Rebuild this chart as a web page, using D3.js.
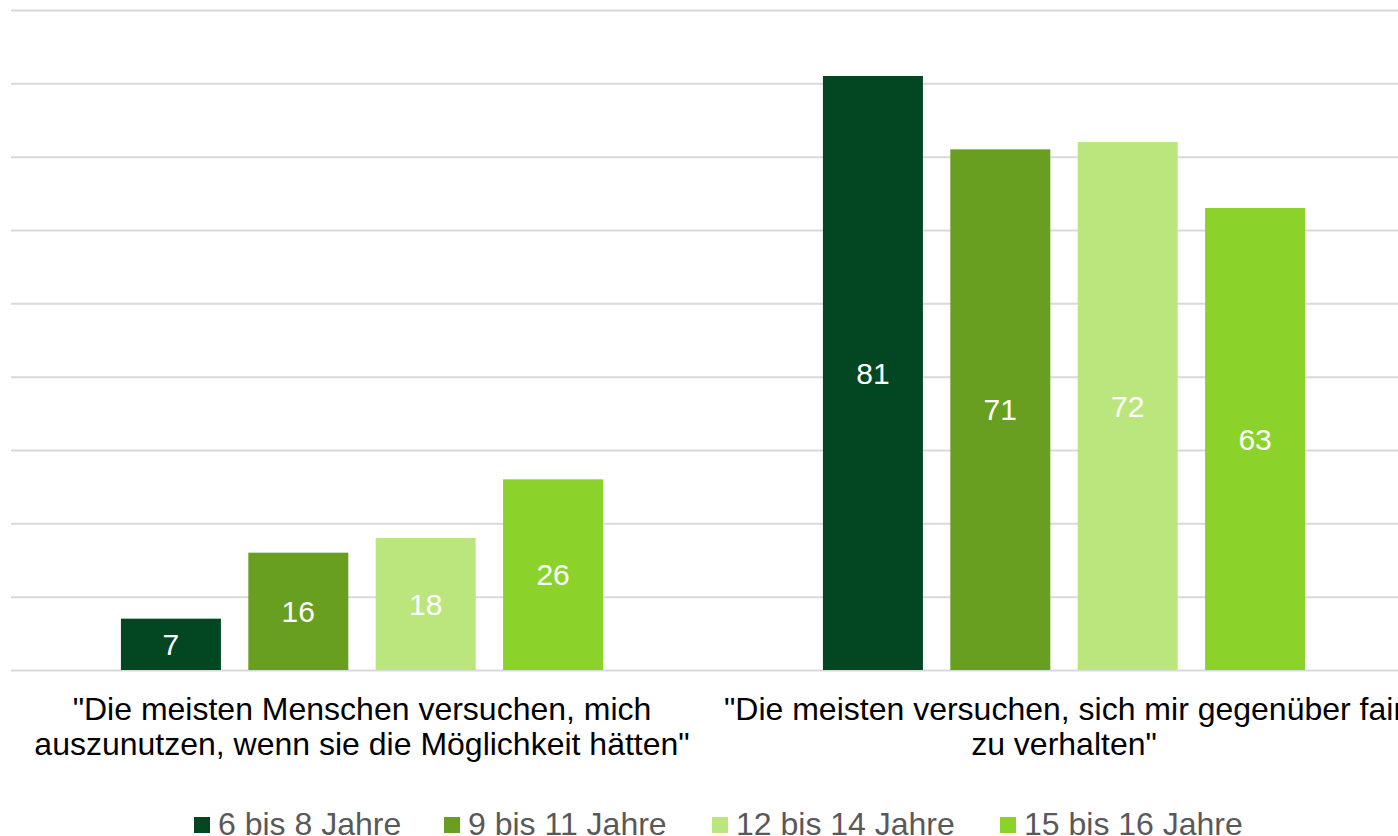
<!DOCTYPE html>
<html>
  <head>
    <meta charset="UTF-8" />
    <title>Vertrauen nach Altersgruppen</title>
    <style>
      body { margin: 0; background: #fff; }
      svg { display: block; font-family: 'Liberation Sans', Arial, sans-serif; }
    </style>
  </head>
  <body>
    <svg width="1398" height="836"></svg>
    <script src="https://cdn.jsdelivr.net/npm/d3@7/dist/d3.min.js"></script>
    <script>
      // data
      const categories = [
        ['"Die meisten Menschen versuchen, mich', 'auszunutzen, wenn sie die Möglichkeit hätten"'],
        ['"Die meisten versuchen, sich mir gegenüber fair', 'zu verhalten"'],
      ];
      const series = ['6 bis 8 Jahre', '9 bis 11 Jahre', '12 bis 14 Jahre', '15 bis 16 Jahre'];
      const values = [
        [7, 16, 18, 26],
        [81, 71, 72, 63],
      ];
      const yTicks = [0, 10, 20, 30, 40, 50, 60, 70, 80, 90];
      const colors = ['#034622', '#699f21', '#bbe67e', '#8bd32a'];

      const svg = d3.select('svg');

      const plot = { left: 11, right: 1415, top: 10, bottom: 670 };

      const yScale = d3.scaleLinear().domain([0, 90]).range([plot.bottom, plot.top]);

      const catIdx = categories.map((d, i) => i);
      const x0 = d3.scaleBand().domain(catIdx).range([plot.left, plot.right]);
      const x1 = d3
        .scaleBand()
        .domain(series)
        .range([0, x0.bandwidth()])
        .paddingInner(0.215)
        .paddingOuter(0.863);

      // gridlines
      const grid = svg
        .append('g')
        .attr('transform', `translate(${plot.left},0)`)
        .call(d3.axisLeft(yScale).tickValues(yTicks).tickSize(-(plot.right - plot.left)).tickFormat(''));
      grid.select('.domain').remove();
      grid.selectAll('.tick line').attr('stroke', '#d9d9d9').attr('stroke-width', 2);

      // bars
      const groups = svg
        .selectAll('g.group')
        .data(values)
        .enter()
        .append('g')
        .attr('class', 'group')
        .attr('transform', (d, i) => `translate(${x0(i)},0)`);

      const cells = groups
        .selectAll('g.cell')
        .data((d) => d.map((v, j) => ({ v, s: series[j], j })))
        .enter()
        .append('g')
        .attr('class', 'cell');

      cells
        .append('rect')
        .attr('x', (d) => x1(d.s))
        .attr('y', (d) => yScale(d.v))
        .attr('width', x1.bandwidth())
        .attr('height', (d) => yScale(0) - yScale(d.v))
        .attr('fill', (d) => colors[d.j]);

      cells
        .append('text')
        .attr('x', (d) => x1(d.s) + x1.bandwidth() / 2)
        .attr('y', (d) => (yScale(d.v) + yScale(0)) / 2)
        .attr('dy', '0.36em')
        .attr('text-anchor', 'middle')
        .attr('fill', '#fff')
        .attr('font-size', 30)
        .text((d) => d.v);

      // category labels (the right one runs off the edge, as in the original)
      const xAxisG = svg.append('g');
      categories.forEach((lines, i) => {
        const cx = x0(i) + x0.bandwidth() / 2;
        const t = xAxisG
          .append('text')
          .attr('x', cx)
          .attr('y', 720)
          .attr('text-anchor', 'middle')
          .attr('fill', '#000')
          .attr('font-size', 32);
        lines.forEach((line, k) => {
          t.append('tspan')
            .attr('x', cx)
            .attr('dy', k === 0 ? 0 : 35)
            .text(line);
        });
      });

      // legend
      const legendX = [194, 444, 712, 1000];
      const legend = svg.append('g').attr('id', 'legend');
      const items = legend
        .selectAll('g')
        .data(series)
        .enter()
        .append('g')
        .attr('transform', (d, i) => `translate(${legendX[i]},0)`);
      items
        .append('rect')
        .attr('x', 0)
        .attr('y', 817)
        .attr('width', 16)
        .attr('height', 16)
        .attr('fill', (d, i) => colors[i]);
      items
        .append('text')
        .attr('x', 24)
        .attr('y', 835)
        .attr('fill', '#595959')
        .attr('font-size', 32)
        .text((d) => d);
    </script>
  </body>
</html>
